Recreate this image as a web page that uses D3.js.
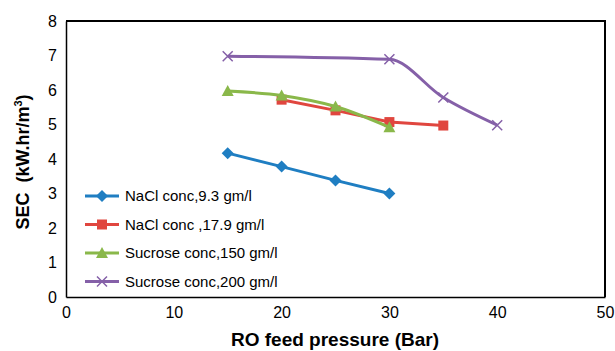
<!DOCTYPE html>
<html>
<head>
<meta charset="utf-8">
<script src="https://cdn.jsdelivr.net/npm/d3@7"></script>
<style>
  body { margin: 0; background: #fff; }
  svg { display: block; font-family: "Liberation Sans", Arial, sans-serif; }
  .tick text { font-size: 16px; fill: #000; }
  .axis path { stroke: #000; stroke-width: 1.5; }
</style>
</head>
<body>
<svg id="chart" width="615" height="351"></svg>
<script>
// pressure (Bar) and SEC (kW.hr/m3)
const nacl93X = [15, 20, 25, 30];
const nacl93Y = [4.17, 3.78, 3.38, 3.0];
const nacl179X = [20, 25, 30, 35];
const nacl179Y = [5.72, 5.41, 5.07, 4.97];
const suc150X = [15, 20, 25, 30];
const suc150Y = [5.97, 5.84, 5.52, 4.92];
const suc200X = [15, 30, 35, 40];
const suc200Y = [6.98, 6.89, 5.78, 4.98];

const xTicks = [0, 10, 20, 30, 40, 50];
const yTicks = [0, 1, 2, 3, 4, 5, 6, 7, 8];

const series = [
  { name: 'NaCl conc,9.3 gm/l', xs: nacl93X, ys: nacl93Y, color: '#1f7ec2', marker: 'diamond', smooth: false },
  { name: 'NaCl conc ,17.9 gm/l', xs: nacl179X, ys: nacl179Y, color: '#e0463f', marker: 'square', smooth: false },
  { name: 'Sucrose conc,150 gm/l', xs: suc150X, ys: suc150Y, color: '#8ab84a', marker: 'triangle', smooth: true },
  { name: 'Sucrose conc,200 gm/l', xs: suc200X, ys: suc200Y, color: '#8560a8', marker: 'cross', smooth: true },
];

const svg = d3.select('#chart');

const margin = { top: 21, right: 10, bottom: 54, left: 66 };
const width = 615 - margin.left - margin.right;
const height = 351 - margin.top - margin.bottom;

const root = svg.append('g')
  .attr('transform', `translate(${margin.left},${margin.top})`);

const x = d3.scaleLinear().domain([0, 50]).range([0, width]);
const y = d3.scaleLinear().domain([0, 8]).range([height, 0]);

//
// Frame (top + right)
//

root.append('path')
  .attr('d', `M0,0H${width}V${height}`)
  .attr('fill', 'none')
  .attr('stroke', '#000')
  .attr('stroke-width', 2);

//
// Axes
//

root.append('g')
  .attr('class', 'axis')
  .attr('transform', `translate(0,${height})`)
  .call(d3.axisBottom(x).tickValues(xTicks).tickSize(0).tickPadding(8))
  .call(g => g.selectAll('.tick text').attr('dy', '0.8em'));

root.append('g')
  .attr('class', 'axis')
  .call(d3.axisLeft(y).tickValues(yTicks).tickSize(0).tickPadding(9));

//
// Axis titles
//

svg.append('text')
  .attr('x', 335)
  .attr('y', 346)
  .attr('text-anchor', 'middle')
  .attr('font-size', 19)
  .attr('font-weight', 'bold')
  .text('RO feed pressure (Bar)');

const yTitle = svg.append('text')
  .attr('transform', `translate(29,162) rotate(-90)`)
  .attr('text-anchor', 'middle')
  .attr('font-size', 18)
  .attr('font-weight', 'bold')
  .style('white-space', 'pre');
yTitle.append('tspan').text('SEC  (kW.hr/m');
yTitle.append('tspan').attr('font-size', 11).attr('dy', -7).text('3');
yTitle.append('tspan').attr('dy', 7).text(')');

//
// Markers
//

function drawMarker(g, type, color) {
  if (type === 'diamond') {
    g.append('path').attr('d', 'M0,-6L6,0L0,6L-6,0Z').attr('fill', color);
  } else if (type === 'square') {
    g.append('rect').attr('x', -5).attr('y', -5).attr('width', 10).attr('height', 10).attr('fill', color);
  } else if (type === 'triangle') {
    g.append('path').attr('d', 'M0,-6L6,5L-6,5Z').attr('fill', color);
  } else {
    g.append('path').attr('d', 'M-5,-5L5,5M-5,5L5,-5')
      .attr('stroke', color).attr('stroke-width', 1.5).attr('fill', 'none');
  }
}

//
// Lines
//

series.forEach(s => {
  const pts = s.xs.map((v, i) => [v, s.ys[i]]);
  const line = d3.line()
    .curve(s.smooth ? d3.curveMonotoneX : d3.curveLinear)
    .x(d => x(d[0]))
    .y(d => y(d[1]));

  root.append('path')
    .datum(pts)
    .attr('fill', 'none')
    .attr('stroke', s.color)
    .attr('stroke-width', 3)
    .attr('d', line);

  pts.forEach(p => {
    const g = root.append('g').attr('transform', `translate(${x(p[0])},${y(p[1])})`);
    drawMarker(g, s.marker, s.color);
  });
});

//
// Legend
//

const legend = svg.append('g').attr('transform', 'translate(85,196)');

series.forEach((s, i) => {
  const row = legend.append('g').attr('transform', `translate(0,${i * 28.5})`);
  row.append('line')
    .attr('x1', 0).attr('x2', 34)
    .attr('stroke', s.color).attr('stroke-width', 3);
  const m = row.append('g').attr('transform', 'translate(17,0)');
  drawMarker(m, s.marker, s.color);
  row.append('text')
    .attr('x', 40)
    .attr('dy', '0.35em')
    .attr('font-size', 15)
    .text(s.name);
});
</script>
</body>
</html>
